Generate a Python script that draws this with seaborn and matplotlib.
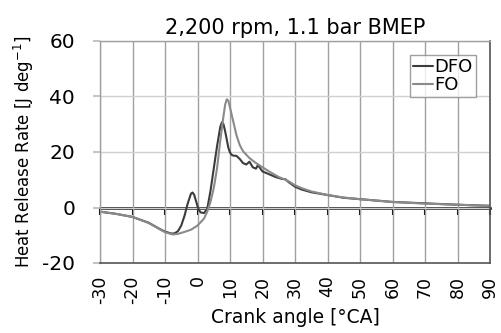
import numpy as np
import pandas as pd
import seaborn as sns
import matplotlib
matplotlib.use("Agg")
import matplotlib.pyplot as plt

# crank angle [deg CA] and heat release rate [J/deg]
dfo_ca = [-30, -25, -20, -15, -12, -10, -8, -7, -6, -5, -4, -3, -2, -1.5, -1, 0, 0.5, 1, 2, 3, 4, 5, 6, 7, 7.5, 8, 8.5, 9, 9.5, 10, 10.5, 11, 12, 13, 14, 15, 16, 17, 18, 18.6, 19.5, 20, 22, 24, 26, 27, 28, 30, 32, 35, 40, 45, 50, 60, 70, 80, 90]
dfo_hr = [-1.5, -2.3, -3.4, -5.5, -7.5, -8.7, -9.4, -9.3, -8.5, -6.5, -3.0, 1.5, 5.0, 5.4, 4.5, 0.5, -1.0, -1.8, -2.0, -0.5, 6.0, 14.0, 22.0, 29.0, 30.7, 30.0, 27.5, 24.5, 21.5, 19.8, 19.0, 18.7, 18.6, 17.5, 16.0, 15.5, 16.5, 14.5, 14.0, 15.3, 13.8, 13.0, 12.0, 11.0, 10.3, 10.2, 9.2, 7.5, 6.5, 5.5, 4.5, 3.5, 3.0, 2.0, 1.5, 1.0, 0.6]

fo_ca = [-30, -25, -20, -15, -12, -10, -8, -7.5, -6, -4, -2, 0, 2, 3, 4, 5, 6, 7, 8, 8.5, 9, 9.5, 10, 11, 12, 13, 14, 16, 18, 20, 22, 25, 28, 30, 32, 35, 40, 45, 50, 60, 70, 80, 90]
fo_hr = [-1.5, -2.3, -3.4, -5.6, -7.6, -8.9, -9.6, -9.7, -9.5, -8.8, -8.0, -6.5, -4.0, -1.5, 2.0, 7.0, 14.0, 24.0, 33.0, 37.0, 39.0, 38.5, 36.0, 31.0, 26.0, 22.5, 20.3, 17.8, 16.0, 14.5, 13.0, 11.0, 9.5, 8.0, 7.0, 5.8, 4.5, 3.6, 3.0, 2.0, 1.4, 1.0, 0.6]

x_ticks = list(range(-30, 91, 10))
y_ticks = [-20, 0, 20, 40, 60]

df = pd.concat([
    pd.DataFrame({"ca": dfo_ca, "hrr": dfo_hr, "fuel": "DFO"}),
    pd.DataFrame({"ca": fo_ca, "hrr": fo_hr, "fuel": "FO"}),
])

sns.set_theme(style="white")
plt.rcParams["font.family"] = ["DejaVu Sans"]
plt.rcParams["text.color"] = "black"
plt.rcParams["axes.labelcolor"] = "black"
plt.rcParams["xtick.color"] = "black"
plt.rcParams["ytick.color"] = "black"

fig = plt.figure(figsize=(5.01, 3.33), dpi=100)
ax = fig.add_axes([100 / 501, 1 - 263 / 333, 390 / 501, 222 / 333])

sns.lineplot(data=df, x="ca", y="hrr", hue="fuel", palette={"DFO": "#3c3c3c", "FO": "#8a8a8a"},
             linewidth=1.5, ax=ax, sort=False, estimator=None)

ax.set_xlim(-30, 90)
ax.set_ylim(-20, 60)
ax.set_xticks(x_ticks)
ax.set_xticklabels([str(t) for t in x_ticks], rotation=90, fontsize=12.5)
ax.set_yticks(y_ticks)
ax.set_yticklabels([str(t) for t in y_ticks], fontsize=14.5)
ax.tick_params(axis="x", length=0, pad=9)
ax.tick_params(axis="y", length=5, color="#bbbbbb", labelcolor="black", pad=13, left=True)

ax.grid(axis="x", color="#a0a0a0", linewidth=1.0)
ax.grid(axis="y", color="#d0d0d0", linewidth=1.0)
ax.set_axisbelow(True)

for side in ["left", "top"]:
    ax.spines[side].set_color("#a0a0a0")
    ax.spines[side].set_linewidth(1.0)
ax.spines["right"].set_color("#555555")
ax.spines["right"].set_linewidth(1.2)
ax.spines["bottom"].set_color("#555555")
ax.spines["bottom"].set_linewidth(1.2)

# zero line with ticks
sec = ax.secondary_xaxis(0.25)
sec.set_xticks(x_ticks)
sec.set_xticklabels([])
sec.tick_params(axis="x", direction="out", length=5, width=1.5, color="black")
sec.spines["bottom"].set_color("black")
sec.spines["bottom"].set_linewidth(1.8)

ax.set_xlabel("Crank angle [°CA]", fontsize=13.5, labelpad=3)
ax.set_ylabel("Heat Release Rate [J deg$^{-1}$]", fontsize=12, labelpad=4)
ax.set_title("2,200 rpm, 1.1 bar BMEP", fontsize=15, pad=5)

leg = ax.legend(loc="upper right", fontsize=13, handlelength=1.1, handletextpad=0.1,
                borderpad=0.15, labelspacing=0.0, frameon=True, fancybox=False,
                borderaxespad=0.8)
leg.get_frame().set_edgecolor("#888888")
leg.get_frame().set_linewidth(1.0)
leg.set_title(None)

fig.savefig("out.png", dpi=100)
